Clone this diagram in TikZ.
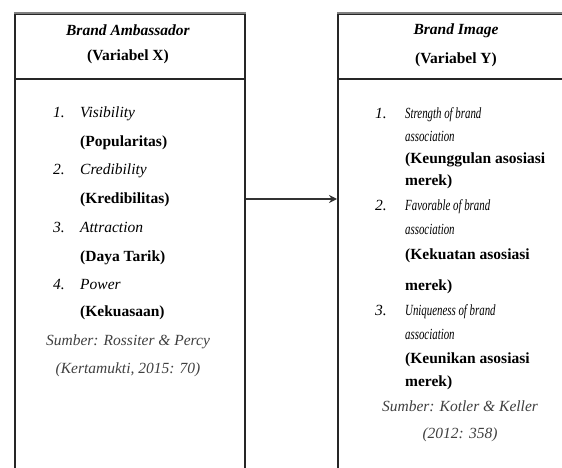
\documentclass[tikz,border=0pt]{standalone}
\usepackage{fontspec}
\usepackage{graphicx}
\setmainfont{Liberation Serif}
\usetikzlibrary{arrows.meta}
\begin{document}
\begin{tikzpicture}[x=1pt,y=-1pt,
  frame/.style={draw=black!85, line width=1.6pt, inner sep=0pt, anchor=north west},
  topline/.style={draw=black!50, line width=2.2pt},
  txt/.style={anchor=mid west, inner sep=0pt, font=\fontsize{15.5}{18}\selectfont},
  ctr/.style={anchor=mid, inner sep=0pt, font=\fontsize{15.5}{18}\selectfont},
  src/.style={ctr, text=black!75},
  arr/.style={-{Stealth[length=8pt,width=8pt]}, line width=1.6pt, draw=black!80}]
\useasboundingbox (0,0) rectangle (562,468);
\clip (0,0) rectangle (562,468);
% left box
\node[frame, minimum width=230pt, minimum height=480pt] (lbox) at (14,13) {};
\node[frame, minimum width=230pt, minimum height=65pt] (lhead) at (14,13) {};
\draw[topline] (lhead.north west) -- (lhead.north east);
% right box
\node[frame, minimum width=240pt, minimum height=480pt] (rbox) at (337,13) {};
\node[frame, minimum width=240pt, minimum height=65pt] (rhead) at (337,13) {};
\draw[topline] (rhead.north west) -- (rhead.north east);
% arrow
\coordinate (ay) at (0,199);
\draw[arr] (lbox.east |- ay) -- (rbox.west |- ay);
% left header
\node[ctr] (lh1) at (128,33) {\textbf{\textit{Brand Ambassador}}};
\node[ctr] (lh2) at (128,58) {\textbf{(Variabel X)}};
% left items
\node[txt] (ln1) at (53,115) {\textit{1.}};
\node[txt] (li1) at (80,115) {\textit{Visibility}};
\node[txt] (li1b) at (80,144) {\textbf{(Popularitas)}};
\node[txt] (ln2) at (53,172) {\textit{2.}};
\node[txt] (li2) at (80,172) {\textit{Credibility}};
\node[txt] (li2b) at (80,201) {\textbf{(Kredibilitas)}};
\node[txt] (ln3) at (53,230) {\textit{3.}};
\node[txt] (li3) at (80,230) {\textit{Attraction}};
\node[txt] (li3b) at (80,259) {\textbf{(Daya Tarik)}};
\node[txt] (ln4) at (53,287) {\textit{4.}};
\node[txt] (li4) at (80,287) {\textit{Power}};
\node[txt] (li4b) at (80,314) {\textbf{(Kekuasaan)}};
\node[src] (ls1) at (128,343) {\textit{Sumber: Rossiter \& Percy}};
\node[src] (ls2) at (128,371) {\textit{(Kertamukti, 2015: 70)}};
% right header
\node[ctr] (rh1) at (456,32) {\textbf{\textit{Brand Image}}};
\node[ctr] (rh2) at (456,61) {\textbf{(Variabel Y)}};
% right items
\node[txt] (rn1) at (375,116) {\textit{1.}};
\node[txt] (ri1) at (405,116) {\scalebox{0.7}[1]{\textit{Strength of brand}}};
\node[txt] (ri1a) at (405,139) {\scalebox{0.7}[1]{\textit{association}}};
\node[txt] (ri1b) at (405,161) {\textbf{(Keunggulan asosiasi}};
\node[txt] (ri1c) at (405,183) {\textbf{merek)}};
\node[txt] (rn2) at (375,208) {\textit{2.}};
\node[txt] (ri2) at (405,208) {\scalebox{0.7}[1]{\textit{Favorable of brand}}};
\node[txt] (ri2a) at (405,232) {\scalebox{0.7}[1]{\textit{association}}};
\node[txt] (ri2b) at (405,257) {\textbf{(Kekuatan asosiasi}};
\node[txt] (ri2c) at (405,288) {\textbf{merek)}};
\node[txt] (rn3) at (375,313) {\textit{3.}};
\node[txt] (ri3) at (405,313) {\scalebox{0.7}[1]{\textit{Uniqueness of brand}}};
\node[txt] (ri3a) at (405,337) {\scalebox{0.7}[1]{\textit{association}}};
\node[txt] (ri3b) at (405,361) {\textbf{(Keunikan asosiasi}};
\node[txt] (ri3c) at (405,384) {\textbf{merek)}};
\node[src] (rs1) at (460,409) {\textit{Sumber: Kotler \& Keller}};
\node[src] (rs2) at (460,436) {\textit{(2012: 358)}};
\end{tikzpicture}
\end{document}
